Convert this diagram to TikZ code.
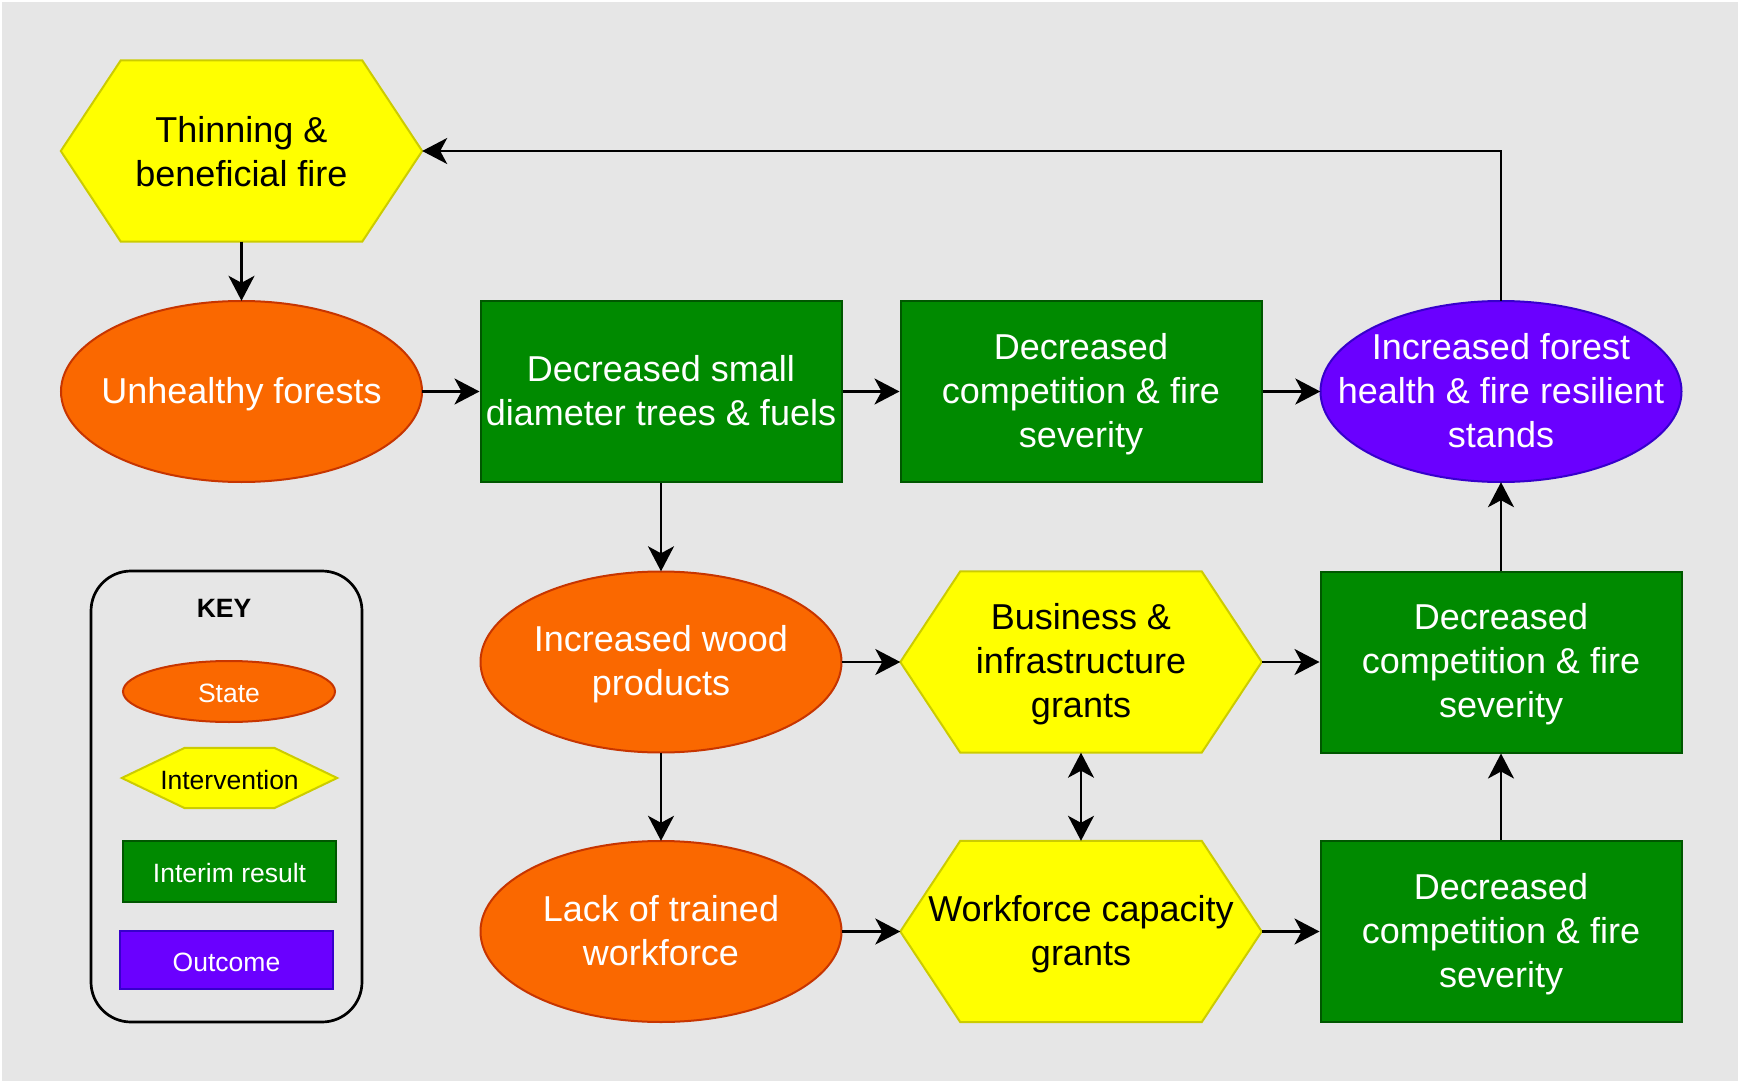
\documentclass[tikz,border=0pt]{standalone}
\usepackage{fontspec}
\setmainfont{Liberation Sans}
\usetikzlibrary{arrows.meta,backgrounds}
\definecolor{bgc}{HTML}{E6E6E6}
\definecolor{orf}{HTML}{FA6800}
\definecolor{orl}{HTML}{C73500}
\definecolor{yef}{HTML}{FFFF00}
\definecolor{yel}{HTML}{CCCC00}
\definecolor{grf}{HTML}{008A00}
\definecolor{grl}{HTML}{005700}
\definecolor{puf}{HTML}{6A00FF}
\definecolor{pul}{HTML}{3700CC}
\newcommand{\ts}{\rule[-0.21em]{0pt}{1.08em}}
\newcommand{\tk}{\rule{0pt}{0.87em}}
\tikzset{
  base/.style={rectangle, inner sep=0pt, align=center, font=\fontsize{36}{44}\selectfont},
  big/.style={base, minimum width=361pt, minimum height=181pt},
  statenode/.style={big, text=white},
  internode/.style={big, text=black},
  interimnode/.style={big, text=white, fill=grf, draw=grl, line width=2pt},
  outcomenode/.style={big, text=white},
  stateshape/.style={fill=orf, draw=orl, line width=2pt},
  intershape/.style={fill=yef, draw=yel, line width=2pt},
  outcomeshape/.style={fill=puf, draw=pul, line width=2pt},
  keyfont/.style={font=\fontsize{26.5}{32}\selectfont},
  arr/.style={line width=2.4pt, -{Stealth[length=25pt,width=26pt,inset=7pt]}},
  dblarr/.style={line width=2.4pt, {Stealth[length=25pt,width=26pt,inset=7pt]}-{Stealth[length=25pt,width=26pt,inset=7pt]}},
}
\begin{document}
\begin{tikzpicture}[x=1pt,y=-1pt]
\useasboundingbox (0,0) rectangle (1740,1083);
% main nodes
\node[internode] (thin) at (241.5,151) {\rule[-0.21em]{0pt}{1.17em}Thinning \&\\beneficial fire\ts};
\node[statenode] (unh) at (241.5,391.5) {\ts Unhealthy forests\ts};
\node[interimnode] (dsm) at (661,391.5) {\ts Decreased small\\diameter trees \& fuels\ts};
\node[interimnode] (dc1) at (1081,391.5) {\ts Decreased\\competition \& fire\\severity\ts};
\node[outcomenode] (inc) at (1501,391.5) {\ts Increased forest\\health \& fire resilient\\stands\ts};
\node[statenode] (wood) at (661,662) {\ts Increased wood\\products\ts};
\node[internode] (biz) at (1081,662) {\ts Business \&\\infrastructure\\grants\ts};
\node[interimnode] (dc2) at (1501,662) {\ts Decreased\\competition \& fire\\severity\ts};
\node[statenode] (lack) at (661,931.5) {\ts Lack of trained\\workforce\ts};
\node[internode] (wf) at (1081,931.5) {\ts Workforce capacity\\grants\ts};
\node[interimnode] (dc3) at (1501,931.5) {\ts Decreased\\competition \& fire\\severity\ts};
% key
\node[draw=black, line width=2.7pt, rounded corners=40pt, minimum width=271pt, minimum height=451pt, inner sep=0pt] (keybox) at (226.5,796.5) {};
\node[keyfont, font=\fontsize{26.5}{32}\selectfont\bfseries, inner sep=0pt] (keytitle) at (224,608) {KEY};
\node[base, keyfont, text=white, minimum width=212pt, minimum height=61pt] (kstate) at (229,691.5) {\tk State};
\node[base, keyfont, text=black, minimum width=215pt, minimum height=60pt] (kinter) at (229.5,778) {\tk Intervention};
\node[base, keyfont, text=white, fill=grf, draw=grl, line width=2pt, minimum width=213pt, minimum height=61pt] (kinterim) at (229.5,871.5) {\tk Interim result};
\node[base, keyfont, text=white, fill=puf, draw=pul, line width=2pt, minimum width=213pt, minimum height=58pt] (koutcome) at (226.5,960) {\tk Outcome};
% shapes behind
\begin{scope}[on background layer]
\fill[white] (0,0) rectangle (1740,1083);
\fill[bgc] (2,2) rectangle (1738,1081);
\foreach \n in {unh,wood,lack}
  \draw[stateshape] (\n.center) ellipse [x radius=180.5pt, y radius=90.5pt];
\draw[outcomeshape] (inc.center) ellipse [x radius=180.5pt, y radius=90.5pt];
\draw[stateshape] (kstate.center) ellipse [x radius=106pt, y radius=30.5pt];
\foreach \n/\s in {thin/60pt, biz/60pt, wf/60pt, kinter/63pt}
  \draw[intershape] (\n.west) -- ([xshift=\s]\n.north west) -- ([xshift=-\s]\n.north east)
     -- (\n.east) -- ([xshift=-\s]\n.south east) -- ([xshift=\s]\n.south west) -- cycle;
\end{scope}
% connectors
\draw[arr] (thin.south) -- (unh.north);
\draw[arr] (unh.east) -- (dsm.west);
\draw[arr] (dsm.east) -- (dc1.west);
\draw[arr] (dc1.east) -- (inc.west);
\draw[arr] (inc.north) |- (thin.east);
\draw[arr] (dsm.south) -- (wood.north);
\draw[arr] (wood.east) -- (biz.west);
\draw[arr] (biz.east) -- (dc2.west);
\draw[arr] (dc2.north) -- (inc.south);
\draw[arr] (wood.south) -- (lack.north);
\draw[arr] (lack.east) -- (wf.west);
\draw[arr] (wf.east) -- (dc3.west);
\draw[arr] (dc3.north) -- (dc2.south);
\draw[dblarr] (biz.south) -- (wf.north);
\end{tikzpicture}
\end{document}
